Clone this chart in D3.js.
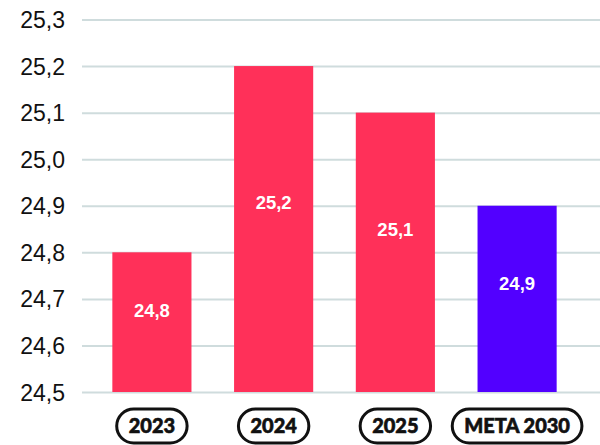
<!DOCTYPE html>
<html>
<head>
  <meta charset="utf-8">
  <script src="https://d3js.org/d3.v7.min.js"></script>
  <style>
    body { margin: 0; background: #fff; }
  </style>
</head>
<body>
<div id="vis"></div>
<script>
  // chart data
  var categories = ["2023", "2024", "2025", "META 2030"];
  var values = [24.8, 25.2, 25.1, 24.9];
  var valueLabels = ["24,8", "25,2", "25,1", "24,9"];
  var barColors = ["#ff3059", "#ff3059", "#ff3059", "#5200ff"];
  var tickValues = [24.5, 24.6, 24.7, 24.8, 24.9, 25.0, 25.1, 25.2, 25.3];

  var width = 600, height = 445;

  var svg = d3.select("#vis").append("svg")
    .attr("width", width)
    .attr("height", height);

  // scales
  var y = d3.scaleLinear()
    .domain([24.5, 25.3])
    .range([392, 19.5]);

  var x = d3.scaleBand()
    .domain(categories)
    .range([88, 581])
    .paddingInner(0.35)
    .paddingOuter(0.2);

  // grid lines + tick labels
  var yAxis = d3.axisLeft(y)
    .tickValues(tickValues)
    .tickSize(-(width - 82))
    .tickFormat(function(d) { return d3.format(".1f")(d).replace(".", ","); });

  var gy = svg.append("g")
    .attr("transform", "translate(82,0)")
    .call(yAxis);
  gy.select(".domain").remove();
  gy.selectAll(".tick line")
    .attr("stroke", "#cfdcdd")
    .attr("stroke-width", 2);
  gy.selectAll(".tick text")
    .attr("x", -17)
    .attr("dy", "0.35em")
    .attr("fill", "#111")
    .style("font-family", "'Liberation Sans', Arial, sans-serif")
    .style("font-size", "23px");

  // bars
  svg.selectAll(".bar")
    .data(values)
    .enter().append("rect")
    .attr("class", "bar")
    .attr("x", function(d, i) { return x(categories[i]); })
    .attr("y", function(d) { return y(d); })
    .attr("width", x.bandwidth())
    .attr("height", function(d) { return y(24.5) - y(d); })
    .attr("fill", function(d, i) { return barColors[i]; });

  // value labels inside bars
  svg.selectAll(".vlabel")
    .data(values)
    .enter().append("text")
    .attr("class", "vlabel")
    .attr("x", function(d, i) { return x(categories[i]) + x.bandwidth() / 2; })
    .attr("y", function(d) { return y(d) + (y(24.5) - y(d)) * 0.42; })
    .attr("dy", "0.35em")
    .attr("text-anchor", "middle")
    .attr("fill", "#fff")
    .style("font-family", "'Liberation Sans', Arial, sans-serif")
    .style("font-weight", "bold")
    .style("font-size", "18.5px")
    .text(function(d, i) { return valueLabels[i]; });

  // category pills
  var pills = svg.selectAll(".pill")
    .data(categories)
    .enter().append("g")
    .attr("class", "pill")
    .attr("transform", function(d) { return "translate(" + (x(d) + x.bandwidth() / 2) + ",426)"; });

  pills.append("text")
    .attr("text-anchor", "middle")
    .attr("dy", "0.36em")
    .attr("fill", "#111")
    .attr("stroke", "#111")
    .attr("stroke-width", 0.6)
    .style("font-family", "Lato, 'Noto Sans', sans-serif")
    .style("font-weight", "900")
    .style("font-size", "20px")
    .text(function(d) { return d; });

  pills.each(function() {
    var g = d3.select(this);
    var w = g.select("text").node().getComputedTextLength() + 24;
    g.insert("rect", "text")
      .attr("x", -w / 2)
      .attr("y", -17)
      .attr("width", w)
      .attr("height", 34)
      .attr("rx", 17)
      .attr("fill", "#fff")
      .attr("stroke", "#111")
      .attr("stroke-width", 3);
  });
</script>
</body>
</html>
